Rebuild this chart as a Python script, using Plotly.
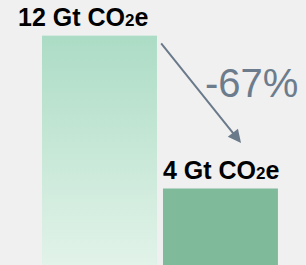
import plotly.graph_objects as go

categories = [0, 1]
values = [12, 4]
labels = ["<b>12 Gt CO<span style=\"font-size:17px\">2</span>e</b>",
          "<b>4 Gt CO<span style=\"font-size:17px\">2</span>e</b>"]
change_label = "-67%"

bar_width = 0.95
bar2_color = "#7fba9b"

fig = go.Figure()
fig.add_trace(go.Bar(x=categories, y=values, width=bar_width,
                     marker=dict(color=["#c6e8d7", bar2_color], line=dict(width=0)),
                     hoverinfo="skip"))
# gradient overlay for the first bar, built from the same data
x0 = categories[0] - bar_width / 2
x1 = categories[0] + bar_width / 2
fig.add_trace(go.Scatter(x=[x0, x1, x1, x0, x0], y=[0, 0, values[0], values[0], 0],
                         mode="lines", fill="toself", line=dict(width=0),
                         fillgradient=dict(type="vertical",
                                           colorscale=[[0, "#e2f3e9"], [1, "#acdcc5"]]),
                         hoverinfo="skip", showlegend=False))

font = "Arial, Liberation Sans, sans-serif"
fig.add_annotation(x=-0.14, y=values[0], yref="y", text=labels[0], showarrow=False,
                   xanchor="center", yanchor="bottom", yshift=3,
                   font=dict(family=font, size=25, color="#000000"))
fig.add_annotation(x=categories[1] + 0.01, y=values[1], text=labels[1], showarrow=False,
                   xanchor="center", yanchor="bottom", yshift=3,
                   font=dict(family=font, size=25, color="#000000"))
fig.add_annotation(x=1.255, y=9.52, text=change_label, showarrow=False,
                   xanchor="center", yanchor="middle",
                   font=dict(family=font, size=40, color="#6d7c8c"))
fig.add_annotation(x=1.17, y=6.39, ax=0.5, ay=11.68, axref="x", ayref="y",
                   xref="x", yref="y", text="", showarrow=True,
                   arrowhead=2, arrowsize=1.3, arrowwidth=2, arrowcolor="#6b7a8b")

fig.update_layout(
    width=306, height=265,
    margin=dict(l=0, r=0, t=0, b=0),
    paper_bgcolor="#f0f0f0", plot_bgcolor="#f0f0f0",
    showlegend=False,
    xaxis=dict(range=[-0.822, 1.707], visible=False, fixedrange=True),
    yaxis=dict(range=[0, 13.87], visible=False, fixedrange=True),
)
fig.write_html("out.html",
               config={"displayModeBar": False, "staticPlot": True},
               post_script="document.body.style.margin='0';"
                           "document.body.style.background='#f0f0f0';"
                           "document.documentElement.style.overflow='hidden';")
